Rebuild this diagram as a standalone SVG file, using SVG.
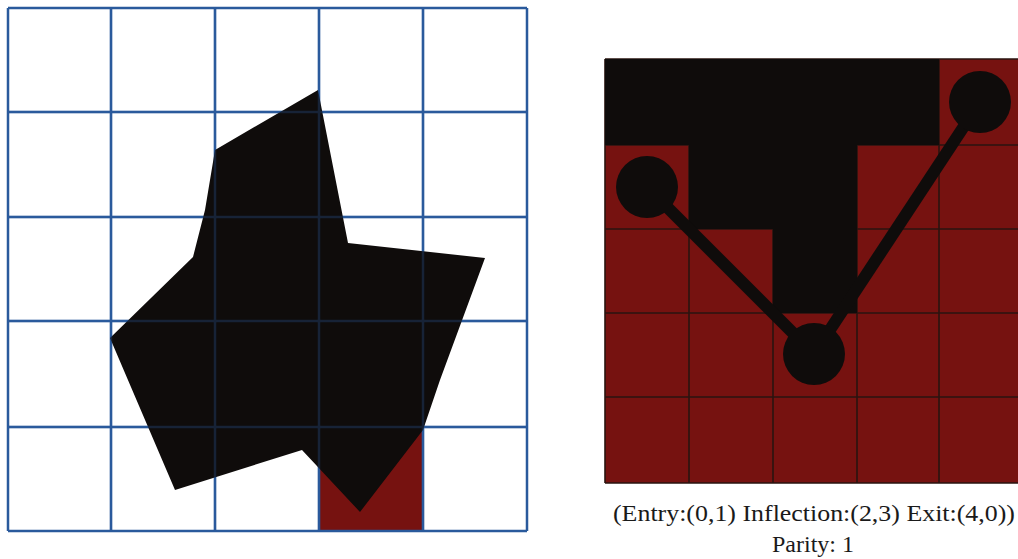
<svg xmlns="http://www.w3.org/2000/svg" width="1018" height="559" viewBox="0 0 1018 559">
<style>
.bg{fill:#ffffff}
.g1{stroke:#2a5a9c;stroke-width:2.5;fill:none}
.g1o{stroke:#2a5a9c;stroke-width:2.5;fill:none;opacity:0.3}
.red{fill:#761210}
.blk{fill:#0f0c0b}
.g2{stroke:#2a1410;stroke-width:1.6;fill:none}
.lbl{font-family:"Liberation Serif","DejaVu Serif",serif;font-size:24px;fill:#1a1a1a;text-anchor:middle}
</style>
<rect class="bg" x="0" y="0" width="1018" height="559"/>
<g id="left-panel">
  <rect class="red" x="320" y="427" width="103" height="104"/>
  <g id="left-grid-under" class="g1">
    <path d="M8 8V531M111 8V531M215 8V531M319 8V531M423 8V531M527 8V531"/>
    <path d="M8 8H527M8 112H527M8 217H527M8 321H527M8 427H527M8 531H527"/>
  </g>
  <polygon id="shape" class="blk" points="318,90 348,243 485,258 440,380 423,430 360,512 302,450 175,490 110,338 193,257 205,210 215,150"/>
  <g id="left-grid-over" class="g1o">
    <path d="M111 8V531M215 8V531M319 8V531M423 8V531"/>
    <path d="M8 112H527M8 217H527M8 321H527M8 427H527"/>
  </g>
</g>
<g id="right-panel">
  <rect class="red" x="605" y="59" width="413" height="424"/>
  <g id="right-grid" class="g2">
    <path d="M605 59V483M689 59V483M773 59V483M857 59V483M939 59V483"/>
    <path d="M605 59H1018M605 145H1018M605 229H1018M605 313H1018M605 397H1018M605 483H1018"/>
  </g>
  <g id="black-cells" class="blk">
    <rect x="605" y="59" width="334" height="86"/>
    <rect x="689" y="144" width="168" height="85"/>
    <rect x="773" y="228" width="84" height="85"/>
  </g>
  <g id="connectors" stroke="#0f0c0b" stroke-width="12" fill="none">
    <line x1="647" y1="187" x2="814" y2="354"/>
    <line x1="814" y1="354" x2="980" y2="102"/>
  </g>
  <g id="entry"><circle class="blk" cx="647" cy="187" r="31"/></g>
  <g id="inflection"><circle class="blk" cx="814" cy="354" r="31"/></g>
  <g id="exit"><circle class="blk" cx="980" cy="102" r="31"/></g>
  <g id="caption">
    <text class="lbl" x="814" y="521" font-family="Liberation Serif, DejaVu Serif, serif" textLength="402" lengthAdjust="spacingAndGlyphs">(Entry:(0,1) Inflection:(2,3) Exit:(4,0))</text>
    <text class="lbl" x="813" y="552" font-family="Liberation Serif, DejaVu Serif, serif">Parity: 1</text>
  </g>
</g>
</svg>
